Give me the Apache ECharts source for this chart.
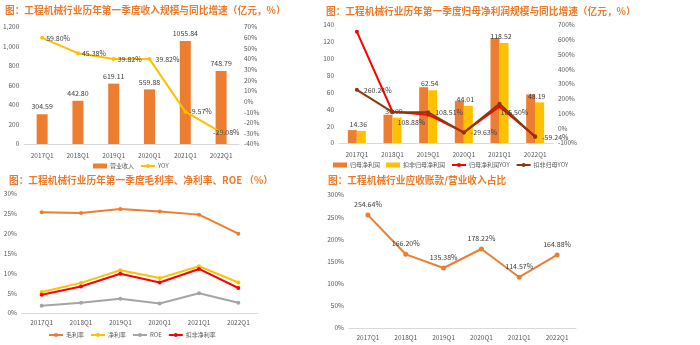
<!DOCTYPE html>
<html><head><meta charset="utf-8">
<script src="https://cdn.jsdelivr.net/npm/echarts@6/dist/echarts.min.js"></script>
<style>html,body{margin:0;padding:0;background:#fff}#c{width:700px;height:345px}</style>
</head><body><div id="c"></div>
<script>
// ---- data ----
const categories = ['2017Q1', '2018Q1', '2019Q1', '2020Q1', '2021Q1', '2022Q1'];
// chart 1
const revenue = [304.59, 442.80, 619.11, 559.88, 1055.84, 748.79];
const revenueYoy = [59.80, 45.38, 39.82, 39.82, -9.57, -29.08];
// chart 2
const netProfit = [15.3, 33.5, 66.2, 49.8, 124.5, 57.6];
const deductedProfit = [14.36, 30.09, 62.54, 44.01, 118.52, 48.19];
const netProfitYoy = [655, 112, 92, -28, 148, -55];
const deductedProfitYoy = [260.24, 108.88, 108.51, -29.63, 165.50, -59.24];
// chart 3
const grossMargin = [25.4, 25.2, 26.2, 25.6, 24.8, 20.0];
const netMargin = [5.3, 7.6, 10.8, 8.8, 11.8, 7.7];
const roe = [1.8, 2.6, 3.6, 2.4, 5.0, 2.6];
const deductedMargin = [4.6, 6.7, 9.9, 7.7, 11.1, 6.3];
// chart 4
const receivableRatio = [254.64, 166.20, 135.38, 178.22, 114.57, 164.88];

// ---- style ----
const FONT = '"Noto Sans CJK SC", "Noto Sans", sans-serif';
const ORANGE = '#ED7D31', GOLD = '#FFC000', RED = '#FF0000', BROWN = '#843C0C', GRAY = '#A5A5A5';
const TITLE_COLOR = '#EC7A2A';
const LABEL_COLOR = '#404040';
const axisLabel = { fontSize: 6.5, color: '#595959', fontFamily: FONT };

function xAxis(gi, margin) {
  return {
    type: 'category', gridIndex: gi, data: categories,
    axisLine: { lineStyle: { color: '#D9D9D9', width: 1 } },
    axisTick: { show: false },
    axisLabel: Object.assign({ margin: margin }, axisLabel)
  };
}
function yAxis(gi, min, max, interval, fmt, pos) {
  return {
    type: 'value', gridIndex: gi, min: min, max: max, interval: interval,
    position: pos || 'left',
    axisLine: { show: false }, axisTick: { show: false }, splitLine: { show: false },
    axisLabel: Object.assign({ formatter: fmt, margin: 5 }, axisLabel)
  };
}
const pct = v => v + '%';
const thousands = v => v.toLocaleString('en-US');
const lbl = (extra) => Object.assign({ show: true, fontSize: 7, color: LABEL_COLOR, fontFamily: FONT }, extra);

const yoyLabelOffsets = [[0, 0], [0, 0], [0, 0], [2, 0], [0, 0], [-12, 0]];
const dedYoyLabelOffsets = [[2, 0], [0, 10], [2, 0], [2, 0], [-4, 9], [2, 0]];

const option = {
  animation: false,
  textStyle: { fontFamily: FONT },
  title: [
    { text: '图：工程机械行业历年第一季度收入规模与同比增速（亿元，%）', left: 5, top: 5 },
    { text: '图：工程机械行业历年第一季度归母净利润规模与同比增速（亿元，%）', left: 326, top: 6 },
    { text: '图：工程机械行业历年第一季度毛利率、净利率、ROE （%）', left: 9, top: 175 },
    { text: '图：工程机械行业应收账款/营业收入占比', left: 328, top: 175 }
  ].map(t => Object.assign(t, { padding: 0, textStyle: { fontSize: 9.7, fontWeight: 'bold', color: TITLE_COLOR, fontFamily: FONT } })),
  legend: [
    { data: [{ name: '营业收入', icon: 'rect' }, '收入YOY'], left: 93, top: 163 },
    { data: [{ name: '归母净利润', icon: 'rect' }, { name: '扣非归母净利润', icon: 'rect' }, '归母净利润YOY', '扣非归母YOY'], left: 333, top: 162 },
    { data: ['毛利率', '净利率', 'ROE', '扣非净利率'], left: 48, top: 332 }
  ].map(l => Object.assign({ itemWidth: 14, itemHeight: 5, itemGap: 6, padding: 0,
    textStyle: { fontSize: 6, color: '#595959', fontFamily: FONT, padding: [0, 0, 0, -2] },
    formatter: n => n === '收入YOY' ? 'YOY' : n }, l)),
  grid: [
    { left: 24, right: 461, top: 27, bottom: 201 },
    { left: 339, right: 147, top: 25, bottom: 202 },
    { left: 22, right: 442, top: 194, bottom: 32 },
    { left: 349, right: 124, top: 195, bottom: 17 }
  ],
  xAxis: [xAxis(0, 8), xAxis(1, 8), xAxis(2, 6), xAxis(3, 6)],
  yAxis: [
    yAxis(0, 0, 1200, 200, thousands),
    yAxis(0, -40, 70, 10, pct, 'right'),
    yAxis(1, 0, 140, 20, null),
    yAxis(1, -100, 700, 100, pct, 'right'),
    yAxis(2, 0, 30, 5, pct),
    yAxis(3, 0, 300, 50, pct)
  ],
  series: [
    { name: '营业收入', type: 'bar', xAxisIndex: 0, yAxisIndex: 0, data: revenue, barWidth: 11,
      itemStyle: { color: ORANGE }, label: lbl({ position: 'top', distance: 4, formatter: p => p.value.toFixed(2) }) },
    { name: '收入YOY', type: 'line', xAxisIndex: 0, yAxisIndex: 1,
      data: revenueYoy.map((v, i) => ({ value: v, label: { offset: yoyLabelOffsets[i] } })),
      itemStyle: { color: GOLD }, lineStyle: { color: GOLD, width: 2 }, symbol: 'circle', symbolSize: 4,
      label: lbl({ position: 'right', distance: 2, formatter: p => p.value.toFixed(2) + '%' }) },

    { name: '归母净利润', type: 'bar', xAxisIndex: 1, yAxisIndex: 2, data: netProfit, barWidth: 9, barGap: '0%',
      itemStyle: { color: ORANGE } },
    { name: '扣非归母净利润', type: 'bar', xAxisIndex: 1, yAxisIndex: 2, data: deductedProfit, barWidth: 9, barGap: '0%',
      itemStyle: { color: GOLD }, label: lbl({ position: 'top', distance: 3, offset: [-3, 0], formatter: p => p.value.toFixed(2) }) },
    { name: '归母净利润YOY', type: 'line', xAxisIndex: 1, yAxisIndex: 3, data: netProfitYoy,
      itemStyle: { color: RED }, lineStyle: { color: RED, width: 2 }, symbol: 'circle', symbolSize: 4 },
    { name: '扣非归母YOY', type: 'line', xAxisIndex: 1, yAxisIndex: 3,
      data: deductedProfitYoy.map((v, i) => ({ value: v, label: { offset: dedYoyLabelOffsets[i] } })),
      itemStyle: { color: BROWN }, lineStyle: { color: BROWN, width: 2 }, symbol: 'circle', symbolSize: 4,
      label: lbl({ position: 'right', distance: 3, formatter: p => p.value.toFixed(2) + '%' }) },

    { name: '毛利率', type: 'line', xAxisIndex: 2, yAxisIndex: 4, data: grossMargin,
      itemStyle: { color: ORANGE }, lineStyle: { color: ORANGE, width: 2 }, symbol: 'circle', symbolSize: 4 },
    { name: '净利率', type: 'line', xAxisIndex: 2, yAxisIndex: 4, data: netMargin,
      itemStyle: { color: GOLD }, lineStyle: { color: GOLD, width: 2 }, symbol: 'circle', symbolSize: 4 },
    { name: 'ROE', type: 'line', xAxisIndex: 2, yAxisIndex: 4, data: roe,
      itemStyle: { color: GRAY }, lineStyle: { color: GRAY, width: 2 }, symbol: 'circle', symbolSize: 4 },
    { name: '扣非净利率', type: 'line', xAxisIndex: 2, yAxisIndex: 4, data: deductedMargin,
      itemStyle: { color: RED }, lineStyle: { color: RED, width: 2 }, symbol: 'circle', symbolSize: 4 },

    { name: '应收账款/营业收入', type: 'line', xAxisIndex: 3, yAxisIndex: 5, data: receivableRatio,
      itemStyle: { color: ORANGE }, lineStyle: { color: ORANGE, width: 2 }, symbol: 'circle', symbolSize: 5,
      label: lbl({ position: 'top', distance: 5, formatter: p => p.value.toFixed(2) + '%' }) }
  ]
};
echarts.init(document.getElementById('c'), null, { renderer: 'canvas' }).setOption(option);
</script>
</body></html>
